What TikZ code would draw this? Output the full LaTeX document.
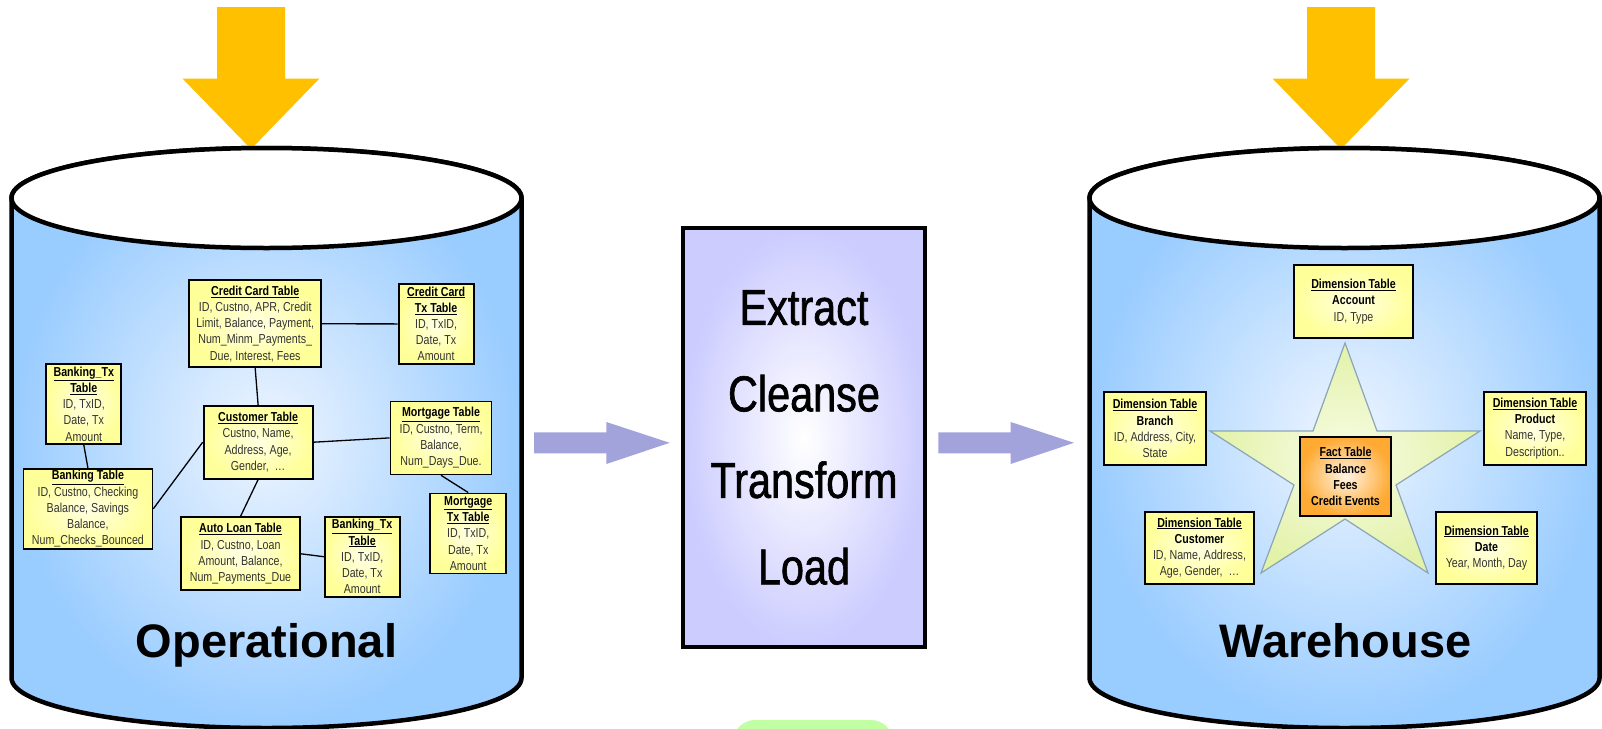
\documentclass[tikz,border=0pt]{standalone}
\usepackage{fontspec}
\setmainfont{Liberation Sans}
\newfontfamily\narrow[FakeStretch=0.82]{Liberation Sans}
\newfontfamily\narrowheavy[FakeStretch=0.82, FakeBold=1.2]{Liberation Sans}

\definecolor{cylblue}{HTML}{99CCFF}
\definecolor{cylpale}{HTML}{EEF5FF}
\definecolor{etlpurple}{HTML}{CCCCFF}
\definecolor{etlarrow}{RGB}{163,163,220}
\definecolor{loadgold}{HTML}{FFC000}
\definecolor{tblyellow}{HTML}{FFFF99}
\definecolor{tblpale}{HTML}{FFFFE2}
\definecolor{factorange}{HTML}{FFAA33}
\definecolor{factpale}{HTML}{FFF4E4}
\definecolor{starfill}{HTML}{E2F2A8}
\definecolor{starpale}{HTML}{F8FCE6}
\definecolor{staredge}{HTML}{8CA6B8}
\definecolor{blobgreen}{HTML}{C2FFA4}
\definecolor{fieldgray}{HTML}{333333}

\newcommand{\hd}[1]{\textcolor{black}{\underline{\textbf{#1}}}}
\newcommand{\nm}[1]{\textcolor{black}{\textbf{#1}}}

\tikzset{
  cyl/.style={line width=4.5pt, draw=black, inner color=cylpale, outer color=cylblue},
  tbl/.style={draw=black, line width=1.8pt, inner color=tblpale, outer color=tblyellow,
    align=center, inner sep=0pt, text=fieldgray, font=\narrow\fontsize{13}{16.2}\selectfont},
  fact/.style={tbl, inner color=factpale, outer color=factorange},
  etlbox/.style={draw=black, line width=4.5pt, inner color=white, outer color=etlpurple,
    align=center, font=\narrowheavy\fontsize{50.5}{86.5}\selectfont},
  link/.style={line width=1.3pt},
  bigname/.style={font=\bfseries\fontsize{47}{47}\selectfont, anchor=base},
}

\begin{document}
\begin{tikzpicture}[x=1pt,y=-1pt]
  \path[use as bounding box, clip] (0,0) rectangle (1602,728);

  % Cylinders
  \foreach \cx in {266.5, 1344.5} {
    \draw[cyl] (\cx-255,198) -- (\cx-255,678)
      arc[start angle=180, end angle=360, x radius=255pt, y radius=50pt]
      -- (\cx+255,198)
      arc[start angle=0, end angle=180, x radius=255pt, y radius=50pt] -- cycle;
  }

  % Load arrows
  \foreach \tx in {251, 1341} {
    \fill[loadgold] (\tx-34,7) -- (\tx+34,7) -- (\tx+34,78.5) -- (\tx+68.5,78.5)
      -- (\tx,149) -- (\tx-68.5,78.5) -- (\tx-34,78.5) -- cycle;
  }
  \foreach \cx in {266.5, 1344.5} {
    \filldraw[fill=white, line width=4.5pt] (\cx,198) ellipse[x radius=255pt, y radius=50pt];
  }

  % Operational tables
  \node[tbl, minimum width=132pt, minimum height=87pt] (cc) at (255.2,323.8)
    {\hd{Credit Card Table}\\ID, Custno, APR, Credit\\Limit, Balance, Payment,\\Num\_Minm\_Payments\_\\Due, Interest, Fees};
  \node[tbl, minimum width=75pt, minimum height=80pt] (cctx) at (436.1,323.9)
    {\hd{Credit Card}\\\hd{Tx Table}\\ID, TxID,\\Date, Tx\\Amount};
  \node[tbl, minimum width=75pt, minimum height=80pt] (btxa) at (83.8,404)
    {\hd{Banking\_Tx}\\\hd{Table}\\ID, TxID,\\Date, Tx\\Amount};
  \node[tbl, minimum width=129pt, minimum height=80pt] (bank) at (87.9,508.8)
    {\hd{Banking Table}\\ID, Custno, Checking\\Balance, Savings\\Balance,\\Num\_Checks\_Bounced};
  \node[tbl, minimum width=109pt, minimum height=73pt] (cust) at (258.1,442.2)
    {\hd{Customer Table}\\Custno, Name,\\Address, Age,\\Gender,\ \ …};
  \node[tbl, minimum width=101pt, minimum height=73pt] (mort) at (441,437.9)
    {\hd{Mortgage Table}\\ID, Custno, Term,\\Balance,\\Num\_Days\_Due.};
  \node[tbl, minimum width=76pt, minimum height=80pt] (morttx) at (468.2,533.4)
    {\hd{Mortgage}\\\hd{Tx Table}\\ID, TxID,\\Date, Tx\\Amount};
  \node[tbl, minimum width=119pt, minimum height=73pt] (auto) at (240.5,553.8)
    {\hd{Auto Loan Table}\\ID, Custno, Loan\\Amount, Balance,\\Num\_Payments\_Due};
  \node[tbl, minimum width=75pt, minimum height=80pt] (btxb) at (362.2,556.7)
    {\hd{Banking\_Tx}\\\hd{Table}\\ID, TxID,\\Date, Tx\\Amount};

  \draw[link] (cc.east) -- (cctx.west);
  \draw[link] (cc.south) -- (cust.north);
  \draw[link] (btxa.south) -- (bank.north);
  \draw[link] (cust.west) -- (bank.east);
  \draw[link] (cust.east) -- (mort.west);
  \draw[link] (mort.south) -- (morttx.north);
  \draw[link] (cust.south) -- (auto.north);
  \draw[link] (auto.east) -- (btxb.west);

  \node[bigname] (opname) at (266.5,657) {Operational};

  % ETL step
  \foreach \ax in {534, 938.3} {
    \fill[etlarrow] (\ax,432.3) -- ++(72.4,0) -- ++(0,-10.3) -- ++(63.3,20.8)
      -- ++(-63.3,21.2) -- ++(0,-10.7) -- ++(-72.4,0) -- cycle;
  }
  \node[etlbox, minimum width=242pt, minimum height=419pt] (etl) at (804,437.5)
    {Extract\\Cleanse\\Transform\\Load};

  % Warehouse star schema
  \filldraw[draw=staredge, line width=1.2pt, inner color=starpale, outer color=starfill]
    (1345,343) -- (1377,431) -- (1480,431) -- (1396,485) -- (1428,573) -- (1345,519)
    -- (1261,573) -- (1294,485) -- (1210,431) -- (1313,431) -- cycle;

  \node[tbl, minimum width=119pt, minimum height=73pt] (acct) at (1353.5,301.5)
    {\hd{Dimension Table}\\\nm{Account}\\ID, Type};
  \node[tbl, minimum width=102pt, minimum height=73pt] (branch) at (1155,428.5)
    {\hd{Dimension Table}\\\nm{Branch}\\ID, Address, City,\\State};
  \node[tbl, minimum width=102pt, minimum height=73pt] (prod) at (1535,428.5)
    {\hd{Dimension Table}\\\nm{Product}\\Name, Type,\\Description..};
  \node[tbl, minimum width=109pt, minimum height=72pt] (dcust) at (1199.5,548)
    {\hd{Dimension Table}\\\nm{Customer}\\ID, Name, Address,\\Age, Gender,\ \ …};
  \node[tbl, minimum width=101pt, minimum height=72pt] (ddate) at (1486.5,548)
    {\hd{Dimension Table}\\\nm{Date}\\Year, Month, Day};
  \node[fact, minimum width=91pt, minimum height=79pt] (fact) at (1345.5,476.5)
    {\hd{Fact Table}\\\nm{Balance}\\\nm{Fees}\\\nm{Credit Events}};

  \node[bigname] (whname) at (1345.5,657) {Warehouse};

  % Next step, cut off
  \fill[blobgreen, rounded corners=22pt] (733,770) rectangle (893,720);
\end{tikzpicture}
\end{document}
